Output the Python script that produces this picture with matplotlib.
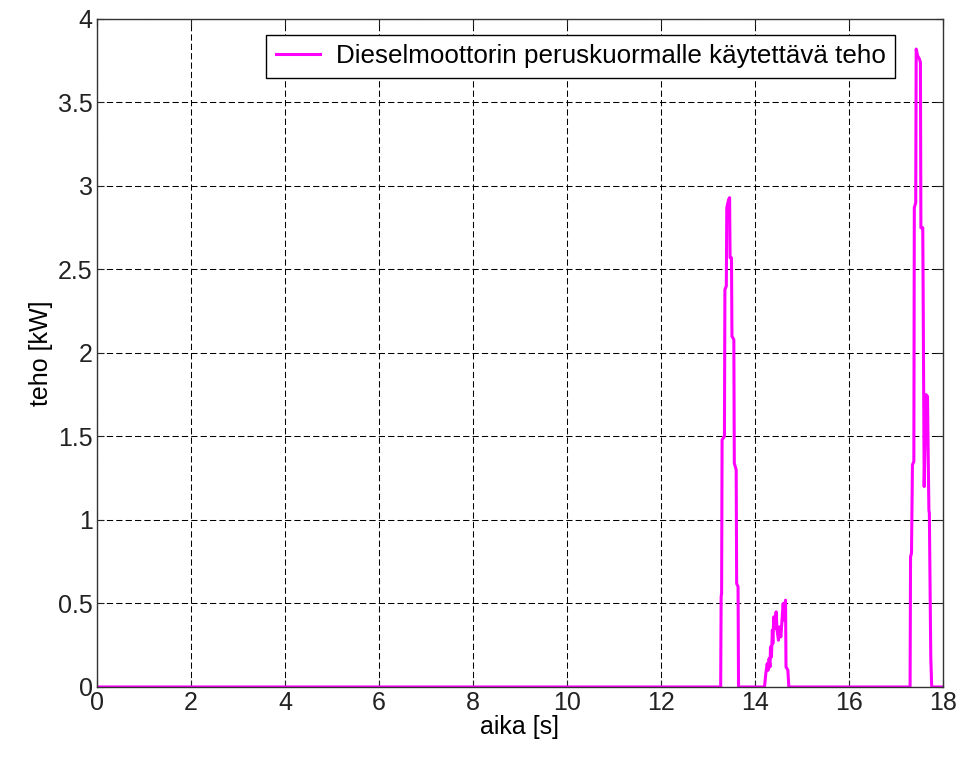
import numpy as np
import matplotlib.pyplot as plt

# power data (time in s, power in kW)
t_peak1 = [13.27, 13.28, 13.29, 13.30, 13.35, 13.36, 13.39, 13.40, 13.44, 13.46,
           13.47, 13.50, 13.51, 13.55, 13.56, 13.60, 13.61, 13.64, 13.65]
p_peak1 = [0.0, 0.54, 0.56, 1.48, 1.50, 2.38, 2.40, 2.87, 2.92, 2.93,
           2.57, 2.57, 2.10, 2.08, 1.34, 1.30, 0.62, 0.60, 0.0]

t_peak2 = [14.20, 14.21, 14.23, 14.26, 14.28, 14.30, 14.32, 14.33, 14.35, 14.37,
           14.38, 14.40, 14.42, 14.45, 14.47, 14.50, 14.52, 14.55, 14.57, 14.60,
           14.62, 14.65, 14.66, 14.70, 14.72]
p_peak2 = [0.0, 0.02, 0.08, 0.14, 0.10, 0.17, 0.12, 0.24, 0.18, 0.34,
           0.26, 0.42, 0.35, 0.45, 0.34, 0.28, 0.36, 0.30, 0.38, 0.50,
           0.40, 0.52, 0.12, 0.10, 0.0]

t_peak3 = [17.30, 17.31, 17.33, 17.35, 17.38, 17.39, 17.42, 17.43, 17.46, 17.50,
           17.52, 17.53, 17.57, 17.58, 17.60, 17.62, 17.64, 17.67, 17.70, 17.71,
           17.74, 17.76]
p_peak3 = [0.0, 0.78, 0.80, 1.33, 1.35, 2.87, 2.90, 3.82, 3.78, 3.76,
           3.74, 2.75, 2.75, 2.25, 1.20, 1.50, 1.75, 1.74, 1.06, 1.04,
           0.18, 0.0]

t = [0.0] + t_peak1 + t_peak2 + t_peak3 + [18.0]
p = [0.0] + p_peak1 + p_peak2 + p_peak3 + [0.0]

x_ticks = [0, 2, 4, 6, 8, 10, 12, 14, 16, 18]
y_ticks = [0, 0.5, 1, 1.5, 2, 2.5, 3, 3.5, 4]
y_tick_labels = ["0", "0.5", "1", "1.5", "2", "2.5", "3", "3.5", "4"]

plt.rcParams["font.family"] = ["Liberation Sans", "DejaVu Sans"]

fig = plt.figure(figsize=(9.64, 7.6), dpi=100)
ax = fig.add_axes([0.1006, 0.0961, 0.8776, 0.8789])

ax.plot(t, p, color="#FF00FF", linewidth=2.2,
        label="Dieselmoottorin peruskuormalle käytettävä teho")

ax.set_xlim(0, 18)
ax.set_ylim(0, 4)
ax.set_xticks(x_ticks)
ax.set_yticks(y_ticks)
ax.set_yticklabels(y_tick_labels)

ax.grid(True, color="black", linestyle=(0, (6, 3)), linewidth=0.75)
ax.set_axisbelow(True)
ax.tick_params(direction="in", top=True, right=True, length=5,
               labelsize=18, colors="#222222", pad=3)
for s in ax.spines.values():
    s.set_color("#333333")
    s.set_linewidth(1.0)

ax.set_xlabel("aika [s]", fontsize=18, labelpad=0)
ax.set_ylabel("teho [kW]", fontsize=18, labelpad=4)

leg = ax.legend(loc="upper right", bbox_to_anchor=(0.9433, 0.976),
                borderaxespad=0, fontsize=18.7, fancybox=False, framealpha=1,
                edgecolor="black", handlelength=1.7, handletextpad=0.62,
                borderpad=0.36)
leg.get_frame().set_linewidth(1.0)

plt.savefig("out.png", dpi=100)
